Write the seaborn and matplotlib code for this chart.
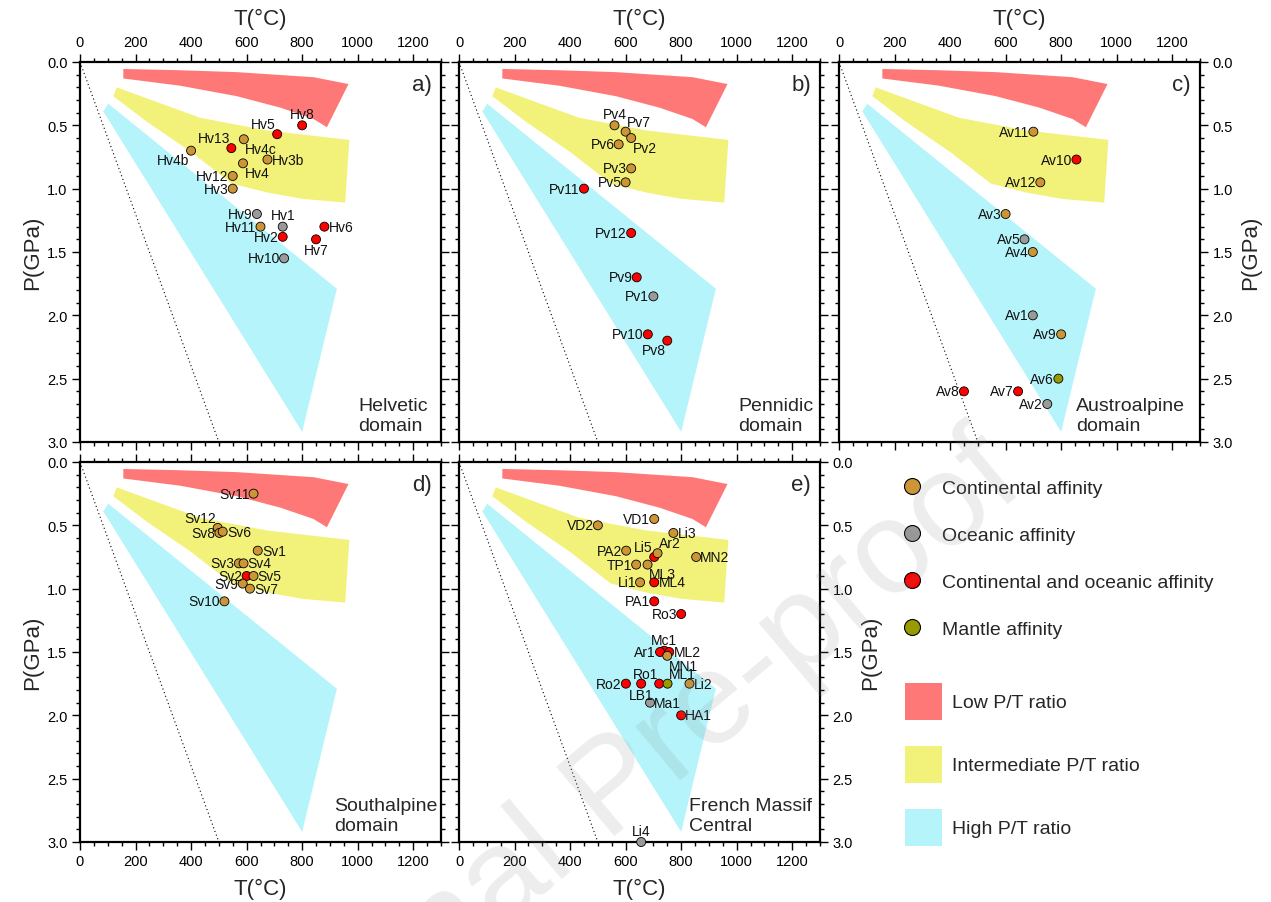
import numpy as np
import pandas as pd
import matplotlib
matplotlib.use("Agg")
import matplotlib.pyplot as plt
import seaborn as sns
from matplotlib.patches import Polygon, Patch
from matplotlib.lines import Line2D
from matplotlib.ticker import MultipleLocator, FormatStrFormatter

# P-T fields (T in degC, P in GPa)
low_T = [156, 360, 565, 841, 967, 889, 841, 721, 565, 360, 156]
low_P = [0.055, 0.065, 0.08, 0.12, 0.174, 0.515, 0.45, 0.36, 0.27, 0.187, 0.13]
mid_T = [132, 432, 673, 970, 955, 800, 673, 547, 400, 240, 120]
mid_P = [0.20, 0.44, 0.54, 0.615, 1.11, 1.08, 1.03, 0.96, 0.71, 0.47, 0.27]
high_T = [102, 925, 800, 84]
high_P = [0.33, 1.79, 2.92, 0.39]
geo_T = [0, 500]
geo_P = [0.0, 3.0]

# a) Helvetic domain
hv_names = ["Hv8", "Hv5", "Hv13", "Hv4c", "Hv4b", "Hv3b", "Hv4", "Hv12", "Hv3",
            "Hv9", "Hv1", "Hv11", "Hv6", "Hv2", "Hv7", "Hv10"]
hv_T = [800, 710, 545, 590, 400, 675, 587, 550, 550, 637, 730, 650, 880, 730, 850, 735]
hv_P = [0.50, 0.57, 0.68, 0.61, 0.70, 0.77, 0.80, 0.90, 1.00, 1.20, 1.30, 1.30, 1.30, 1.38, 1.40, 1.55]
hv_aff = ["CO", "CO", "CO", "C", "C", "C", "C", "C", "C", "O", "O", "C", "CO", "CO", "CO", "O"]
hv_pos = ["t", "tl", "tl", "br", "bl", "r", "br", "l", "l", "l", "t", "l", "r", "l", "b", "l"]

# b) Pennidic domain
pv_names = ["Pv4", "Pv7", "Pv2", "Pv6", "Pv3", "Pv5", "Pv11", "Pv12", "Pv9", "Pv1", "Pv10", "Pv8"]
pv_T = [560, 600, 620, 575, 620, 600, 450, 620, 640, 700, 680, 750]
pv_P = [0.50, 0.55, 0.60, 0.65, 0.84, 0.95, 1.00, 1.35, 1.70, 1.85, 2.15, 2.20]
pv_aff = ["C", "C", "C", "C", "C", "C", "CO", "CO", "CO", "O", "CO", "CO"]
pv_pos = ["t", "tr", "br", "l", "l", "l", "l", "l", "l", "l", "l", "bl"]

# c) Austroalpine domain
av_names = ["Av11", "Av10", "Av12", "Av3", "Av5", "Av4", "Av1", "Av9", "Av6", "Av8", "Av7", "Av2"]
av_T = [700, 855, 725, 600, 668, 698, 698, 800, 790, 450, 645, 750]
av_P = [0.55, 0.77, 0.95, 1.20, 1.40, 1.50, 2.00, 2.15, 2.50, 2.60, 2.60, 2.70]
av_aff = ["C", "CO", "C", "C", "O", "C", "O", "C", "M", "CO", "CO", "O"]
av_pos = ["l"] * 12

# d) Southalpine domain
sv_names = ["Sv11", "Sv12", "Sv8", "Sv6", "Sv1", "Sv3", "Sv4", "Sv2", "Sv5", "Sv9", "Sv7", "Sv10"]
sv_T = [625, 496, 502, 514, 640, 572, 589, 600, 625, 586, 612, 520]
sv_P = [0.25, 0.52, 0.56, 0.55, 0.70, 0.80, 0.80, 0.90, 0.90, 0.96, 1.00, 1.10]
sv_aff = ["C", "C", "C", "C", "C", "C", "C", "CO", "C", "C", "C", "C"]
sv_pos = ["l", "tl", "l", "r", "r", "l", "r", "l", "r", "l", "r", "l"]

# e) French Massif Central
fm_names = ["VD2", "VD1", "Li3", "PA2", "Li5", "Ar2", "TP1", "ML3", "MN2", "Li1", "ML4", "PA1",
            "Ro3", "Mc1", "Ar1", "ML2", "MN1", "Ro2", "LB1", "Ro1", "ML1", "Li2", "Ma1", "HA1", "Li4"]
fm_T = [500, 703, 772, 602, 703, 715, 638, 679, 854, 652, 703, 703,
        800, 739, 724, 757, 750, 601, 656, 721, 751, 830, 688, 800, 656]
fm_P = [0.50, 0.45, 0.56, 0.70, 0.75, 0.72, 0.81, 0.81, 0.75, 0.95, 0.95, 1.10,
        1.20, 1.49, 1.50, 1.50, 1.53, 1.75, 1.75, 1.75, 1.75, 1.75, 1.90, 2.00, 3.00]
fm_aff = ["C", "C", "C", "C", "CO", "C", "C", "C", "C", "C", "CO", "CO",
          "CO", "CO", "CO", "CO", "C", "CO", "CO", "CO", "M", "C", "O", "CO", "O"]
fm_pos = ["l", "l", "r", "l", "tl", "tr", "l", "br", "r", "l", "r", "l",
          "l", "t", "l", "r", "br", "l", "b", "tl", "tr", "r", "r", "r", "t"]

aff_labels = {"C": "Continental affinity", "O": "Oceanic affinity",
              "CO": "Continental and oceanic affinity", "M": "Mantle affinity"}
pal = {"C": "#CC9636", "O": "#9A9A9A", "CO": "#FF0000", "M": "#999900"}
field_cols = {"low": "#FF7878", "mid": "#F2F27A", "high": "#B4F4FA"}

# label placement: offset (points), ha, va
place = {"l": (-3, 0, "right", "center"), "r": (3, 0, "left", "center"),
         "t": (0, 3, "center", "bottom"), "b": (0, -3, "center", "top"),
         "tl": (-1, 2, "right", "bottom"), "tr": (1, 2, "left", "bottom"),
         "bl": (-1, -2, "right", "top"), "br": (1, -2, "left", "top")}

sns.set_theme(style="ticks")
plt.rcParams["font.family"] = ["Liberation Sans", "DejaVu Sans"]

W, H = 1271, 903
fig = plt.figure(figsize=(W / 100, H / 100), dpi=100)


def panel_axes(x0, y0):
    return fig.add_axes([x0 / W, 1 - (y0 + 380) / H, 361 / W, 380 / H])


def draw_panel(ax, names, T, P, aff, pos, letter, domain, dom_x):
    ax.add_patch(Polygon(np.column_stack([high_T, high_P]), closed=True,
                         fc=field_cols["high"], ec="none", zorder=1))
    ax.add_patch(Polygon(np.column_stack([mid_T, mid_P]), closed=True,
                         fc=field_cols["mid"], ec="none", zorder=1.1))
    ax.add_patch(Polygon(np.column_stack([low_T, low_P]), closed=True,
                         fc=field_cols["low"], ec="none", zorder=1.2))
    ax.plot(geo_T, geo_P, color="black", lw=0.8, ls=(0, (1, 2.5)), zorder=2)

    df = pd.DataFrame({"T": T, "P": P, "aff": aff, "name": names})
    sns.scatterplot(data=df, x="T", y="P", hue="aff", palette=pal, s=42,
                    edgecolor="black", linewidth=0.6, legend=False, ax=ax,
                    zorder=3, clip_on=False)
    for n, t, p, c in zip(names, T, P, pos):
        dx, dy, ha, va = place[c]
        ax.annotate(n, (t, p), xytext=(dx, dy), textcoords="offset points",
                    ha=ha, va=va, fontsize=10, color="#111111", zorder=4)

    ax.set_xlim(0, 1300)
    ax.set_ylim(3.0, 0.0)
    ax.xaxis.set_major_locator(MultipleLocator(200))
    ax.xaxis.set_minor_locator(MultipleLocator(50))
    ax.yaxis.set_major_locator(MultipleLocator(0.5))
    ax.yaxis.set_minor_locator(MultipleLocator(0.1))
    ax.yaxis.set_major_formatter(FormatStrFormatter("%.1f"))
    ax.tick_params(which="both", direction="out", top=True, bottom=True,
                   left=True, right=True, width=1.0, colors="black",
                   labelsize=10.5, pad=3.5)
    ax.tick_params(which="major", length=5.5)
    ax.tick_params(which="minor", length=3)
    for s in ax.spines.values():
        s.set_linewidth(1.6)
        s.set_color("black")
    ax.set_xlabel("")
    ax.set_ylabel("")
    ax.text(0.975, 0.94, letter, transform=ax.transAxes, ha="right",
            va="center", fontsize=16)
    ax.text(dom_x, 0.022, domain, transform=ax.transAxes, ha="left",
            va="bottom", fontsize=14, linespacing=1.2)


ax_a = panel_axes(80, 63)
ax_b = panel_axes(459, 63)
ax_c = panel_axes(839, 63)
ax_d = panel_axes(80, 463)
ax_e = panel_axes(459, 463)

draw_panel(ax_a, hv_names, hv_T, hv_P, hv_aff, hv_pos, "a)", "Helvetic\ndomain", 0.77)
draw_panel(ax_b, pv_names, pv_T, pv_P, pv_aff, pv_pos, "b)", "Pennidic\ndomain", 0.773)
draw_panel(ax_c, av_names, av_T, av_P, av_aff, av_pos, "c)", "Austroalpine\ndomain", 0.657)
draw_panel(ax_d, sv_names, sv_T, sv_P, sv_aff, sv_pos, "d)", "Southalpine\ndomain", 0.705)
draw_panel(ax_e, fm_names, fm_T, fm_P, fm_aff, fm_pos, "e)", "French Massif\nCentral", 0.636)

lab_kw = dict(fontsize=16)
for ax in (ax_a, ax_b, ax_c):
    ax.tick_params(labeltop=True, labelbottom=False)
    ax.xaxis.set_label_position("top")
    ax.set_xlabel("T(°C)", labelpad=8, **lab_kw)
for ax in (ax_d, ax_e):
    ax.tick_params(labeltop=False, labelbottom=True)
    ax.set_xlabel("T(°C)", labelpad=7, **lab_kw)
for ax in (ax_a, ax_d):
    ax.tick_params(labelleft=True, labelright=False)
    ax.set_ylabel("P(GPa)", labelpad=3, **lab_kw)
ax_b.tick_params(labelleft=False, labelright=False)
for ax in (ax_c, ax_e):
    ax.tick_params(labelleft=False, labelright=True)
    ax.yaxis.set_label_position("right")
    ax.set_ylabel("P(GPa)", labelpad=5, **lab_kw)

# legends
mk_handles = [Line2D([], [], ls="none", marker="o", markersize=11.5,
                     mfc=pal[k], mec="black", mew=0.8, label=aff_labels[k])
              for k in ["C", "O", "CO", "M"]]
fig.legend(handles=mk_handles, loc="upper left",
           bbox_to_anchor=(902 / W, 1 - 480 / H), frameon=False, fontsize=14,
           handlelength=1.0, handletextpad=1.05, labelspacing=1.52,
           borderpad=0, borderaxespad=0)

pt_handles = [Patch(fc=field_cols["low"], ec="none", label="Low P/T ratio"),
              Patch(fc=field_cols["mid"], ec="none", label="Intermediate P/T ratio"),
              Patch(fc=field_cols["high"], ec="none", label="High P/T ratio")]
fig.legend(handles=pt_handles, loc="upper left",
           bbox_to_anchor=(905 / W, 1 - 684 / H), frameon=False, fontsize=14,
           handlelength=1.9, handleheight=2.55, handletextpad=0.5,
           labelspacing=1.34, borderpad=0, borderaxespad=0)

# journal watermark
fig.text(615 / W, 1 - 790 / H, "Journal Pre-proof", rotation=40, fontsize=95,
         color="#888888", alpha=0.15, ha="center", va="center",
         rotation_mode="anchor", zorder=10)

fig.savefig("out.png", dpi=100)
